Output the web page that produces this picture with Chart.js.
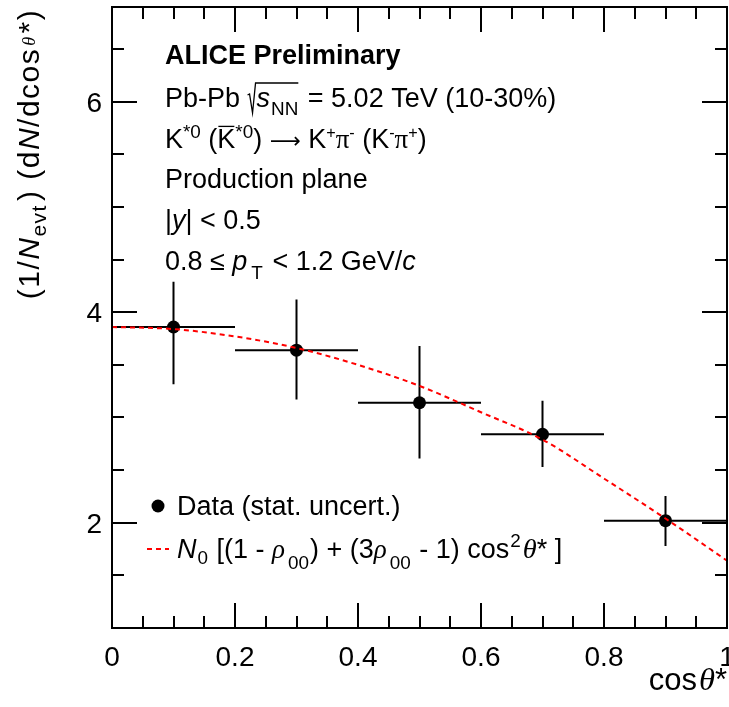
<!DOCTYPE html>
<html>
<head>
<meta charset="utf-8">
<script src="https://cdn.jsdelivr.net/npm/chart.js@4.4.1/dist/chart.umd.min.js"></script>
<style>
  html, body { margin: 0; padding: 0; background: #fff; }
  canvas { display: block; }
</style>
</head>
<body>
<canvas id="chart" width="729" height="707"></canvas>
<script>
const binCenters = [0.1, 0.3, 0.5, 0.7, 0.9];
const binLow = [0.0, 0.2, 0.4, 0.6, 0.8];
const binHigh = [0.2, 0.4, 0.6, 0.8, 1.0];
const yields = [3.86, 3.64, 3.14, 2.84, 2.02];
const errUp = [0.43, 0.48, 0.54, 0.32, 0.235];
const errDown = [0.545, 0.47, 0.53, 0.31, 0.24];

// fit curve
const fitX = [0, 0.1, 0.2, 0.3, 0.4, 0.5, 0.6, 0.7, 0.8, 0.9, 1.0];
const fitY = [3.86, 3.84, 3.77, 3.66, 3.50, 3.30, 3.05, 2.79, 2.42, 2.04, 1.64];

const xTickValues = [0, 0.2, 0.4, 0.6, 0.8, 1];
const xTickLabels = ["0", "0.2", "0.4", "0.6", "0.8", "1"];
const yTickValues = [2, 4, 6];
const yTickLabels = ["2", "4", "6"];

const SANS = '"Liberation Sans", Arial, Helvetica, sans-serif';
const SERIF = '"Liberation Serif", "Times New Roman", serif';

function segFont(seg, size) {
  const px = size * (seg.s || 1);
  const family = seg.f === "serif" ? SERIF : seg.f === "dejavu" ? '"DejaVu Sans"' : SANS;
  return `${seg.i ? "italic " : ""}${seg.b ? "bold " : ""}${px}px ${family}`;
}

function segWidth(ctx, seg, size) {
  if (seg.radical) return seg.w;
  ctx.font = segFont(seg, size);
  return ctx.measureText(seg.t).width + (seg.dx || 0);
}

function drawRich(ctx, segs, x, y, size, align, spacing = "0px") {
  ctx.letterSpacing = spacing;
  const widths = segs.map((seg) => segWidth(ctx, seg, size));
  const total = widths.reduce((a, b) => a + b, 0);
  let cx = align === "center" ? x - total / 2 : align === "right" ? x - total : x;
  ctx.textBaseline = "alphabetic";
  ctx.textAlign = "left";
  segs.forEach((seg, k) => {
    if (seg.radical) {
      let span = 0;
      for (let j = k + 1; j < segs.length && segs[j].inRad; j++) span += widths[j];
      ctx.beginPath();
      ctx.lineWidth = 1.3;
      ctx.strokeStyle = "#000";
      ctx.moveTo(cx, y - 12);
      ctx.lineTo(cx + 2, y - 13);
      ctx.lineTo(cx + 5, y + 6);
      ctx.lineTo(cx + 8, y - 24);
      ctx.lineTo(cx + seg.w + span, y - 24);
      ctx.stroke();
    } else {
      ctx.font = segFont(seg, size);
      ctx.fillStyle = "#000";
      const tx = cx + (seg.dx || 0);
      ctx.fillText(seg.t, tx, y + (seg.dy || 0));
      if (seg.bar) {
        const w = ctx.measureText(seg.t).width;
        ctx.beginPath();
        ctx.lineWidth = 1.3;
        ctx.moveTo(tx + 1, y - size * 0.8);
        ctx.lineTo(tx + w - 1, y - size * 0.8);
        ctx.stroke();
      }
    }
    cx += widths[k];
  });
  ctx.letterSpacing = "0px";
  return total;
}

const TEXT = 27;
const annotations = [
  { y: 64, segs: [{ t: "ALICE Preliminary", b: true }] },
  { y: 107, segs: [
    { t: "Pb-Pb " }, { radical: true, w: 9 },
    { t: "s", i: true, inRad: true }, { t: "NN", s: 0.7, dy: 8, dx: 1, inRad: true },
    { t: " = 5.02 TeV (10-30%)", dx: 2 },
  ] },
  { y: 148, segs: [
    { t: "K" }, { t: "*0", s: 0.7, dy: -10 }, { t: " (" }, { t: "K", bar: true }, { t: "*0", s: 0.7, dy: -10 },
    { t: ") " }, { t: "\u27f6", f: "dejavu", s: 0.8 }, { t: " K" }, { t: "+", s: 0.6, dy: -10 }, { t: "\u03c0", f: "serif" },
    { t: "-", s: 0.6, dy: -10 }, { t: " (K" }, { t: "-", s: 0.6, dy: -10 }, { t: "\u03c0", f: "serif" },
    { t: "+", s: 0.6, dy: -10 }, { t: ")" },
  ] },
  { y: 188, segs: [{ t: "Production plane" }] },
  { y: 229, segs: [{ t: "|" }, { t: "y", i: true }, { t: "| < 0.5" }] },
  { y: 270, segs: [
    { t: "0.8 \u2264 " }, { t: "p", i: true }, { t: "T", s: 0.7, dy: 9, dx: 4 },
    { t: " < 1.2 GeV/", dx: 2 }, { t: "c", i: true },
  ] },
];

const legendFitSegs = [
  { t: "N", i: true }, { t: "0", s: 0.7, dy: 6, dx: 1 }, { t: " [(1 - ", dx: 1 },
  { t: "\u03c1", i: true, f: "serif" }, { t: "00", s: 0.7, dy: 11, dx: 3 },
  { t: ") + (3", dx: 1 }, { t: "\u03c1", i: true, f: "serif" }, { t: "00", s: 0.7, dy: 11, dx: 3 },
  { t: " - 1) cos", dx: 1 }, { t: "2", s: 0.7, dy: -11, dx: 1 }, { t: "\u03b8", i: true, f: "serif", s: 1.05, dx: 2 }, { t: "* ]" },
];

const yTitleSegs = [
  { t: "(1/" }, { t: "N", i: true }, { t: "evt", s: 0.7, dy: 7 }, { t: ") (d", dx: 3 }, { t: "N", i: true },
  { t: "/dcos" }, { t: "\u03b8", i: true, f: "serif", s: 0.6, dy: -4, dx: 2 }, { t: "*)", dx: 2 },
];
const xTitleSegs = [{ t: "cos" }, { t: "\u03b8", i: true, f: "serif", s: 1.05, dx: 2 }, { t: "*" }];

const rootFrame = {
  id: "rootFrame",
  afterDraw(chart) {
    const { ctx, chartArea: area, scales } = chart;
    const xs = scales.x;
    const ys = scales.y;
    ctx.save();
    ctx.strokeStyle = "#000";
    ctx.fillStyle = "#000";

    // frame
    ctx.lineWidth = 2;
    ctx.strokeRect(area.left, area.top, area.right - area.left, area.bottom - area.top);

    // x ticks (bottom + top)
    ctx.beginPath();
    for (let k = 0; k <= 20; k++) {
      const v = k * 0.05;
      const px = Math.round(xs.getPixelForValue(v));
      const len = k % 4 === 0 ? 25 : 12;
      ctx.moveTo(px, area.bottom);
      ctx.lineTo(px, area.bottom - len);
      ctx.moveTo(px, area.top);
      ctx.lineTo(px, area.top + len);
    }
    // y ticks (left + right)
    for (let k = 0; k <= 11; k++) {
      const v = 1 + k * 0.5;
      const py = Math.round(ys.getPixelForValue(v));
      const len = v % 2 === 0 ? 25 : 12;
      ctx.moveTo(area.left, py);
      ctx.lineTo(area.left + len, py);
      ctx.moveTo(area.right, py);
      ctx.lineTo(area.right - len, py);
    }
    ctx.stroke();

    // tick labels
    ctx.font = `28px ${SANS}`;
    ctx.textBaseline = "alphabetic";
    ctx.textAlign = "center";
    xTickValues.forEach((v, i) => ctx.fillText(xTickLabels[i], xs.getPixelForValue(v), 666));
    ctx.textAlign = "right";
    yTickValues.forEach((v, i) => ctx.fillText(yTickLabels[i], 102, ys.getPixelForValue(v) + 10));

    // axis titles
    drawRich(ctx, xTitleSegs, 727, 690, 31, "right");
    ctx.save();
    ctx.translate(39, 154);
    ctx.rotate(-Math.PI / 2);
    drawRich(ctx, yTitleSegs, 0, 0, 30, "center", "1.5px");
    ctx.restore();

    // annotations
    annotations.forEach((line) => drawRich(ctx, line.segs, 165, line.y, TEXT, "left"));

    // legend
    ctx.beginPath();
    ctx.arc(158, 506, 6.5, 0, Math.PI * 2);
    ctx.fill();
    drawRich(ctx, [{ t: "Data (stat. uncert.)" }], 177, 515, TEXT, "left");
    ctx.beginPath();
    ctx.strokeStyle = "#ff0000";
    ctx.lineWidth = 2;
    ctx.setLineDash([5, 4]);
    ctx.moveTo(147, 549);
    ctx.lineTo(169, 549);
    ctx.stroke();
    ctx.setLineDash([]);
    drawRich(ctx, legendFitSegs, 177, 558, TEXT, "left");
    ctx.restore();
  },
};

const vbarData = binCenters.flatMap((x, i) => [
  { x, y: yields[i] - errDown[i] },
  { x, y: yields[i] + errUp[i] },
  { x, y: null },
]);
const hbarData = binCenters.flatMap((x, i) => [
  { x: binLow[i], y: yields[i] },
  { x: binHigh[i], y: yields[i] },
  { x: binHigh[i], y: null },
]);

new Chart(document.getElementById("chart"), {
  type: "line",
  data: {
    datasets: [
      {
        label: "fit",
        data: fitX.map((x, i) => ({ x, y: fitY[i] })),
        borderColor: "#ff0000",
        borderWidth: 2,
        borderDash: [5, 4],
        pointRadius: 0,
        cubicInterpolationMode: "monotone",
        order: 0,
      },
      {
        label: "stat. x",
        data: hbarData,
        borderColor: "#000",
        borderWidth: 2,
        pointRadius: 0,
        spanGaps: false,
        clip: false,
        order: 2,
      },
      {
        label: "stat. y",
        data: vbarData,
        borderColor: "#000",
        borderWidth: 2,
        pointRadius: 0,
        spanGaps: false,
        order: 2,
      },
      {
        label: "Data (stat. uncert.)",
        data: binCenters.map((x, i) => ({ x, y: yields[i] })),
        showLine: false,
        pointRadius: 6.5,
        pointBackgroundColor: "#000",
        pointBorderWidth: 0,
        order: 1,
      },
    ],
  },
  options: {
    responsive: false,
    animation: false,
    devicePixelRatio: 1,
    layout: { autoPadding: false, padding: { left: 112, right: 2, top: 7, bottom: 79 } },
    scales: {
      x: { type: "linear", min: 0, max: 1, display: false },
      y: { type: "linear", min: 1, max: 6.9, display: false },
    },
    plugins: { legend: { display: false }, tooltip: { enabled: false } },
  },
  plugins: [rootFrame],
});
</script>
</body>
</html>
